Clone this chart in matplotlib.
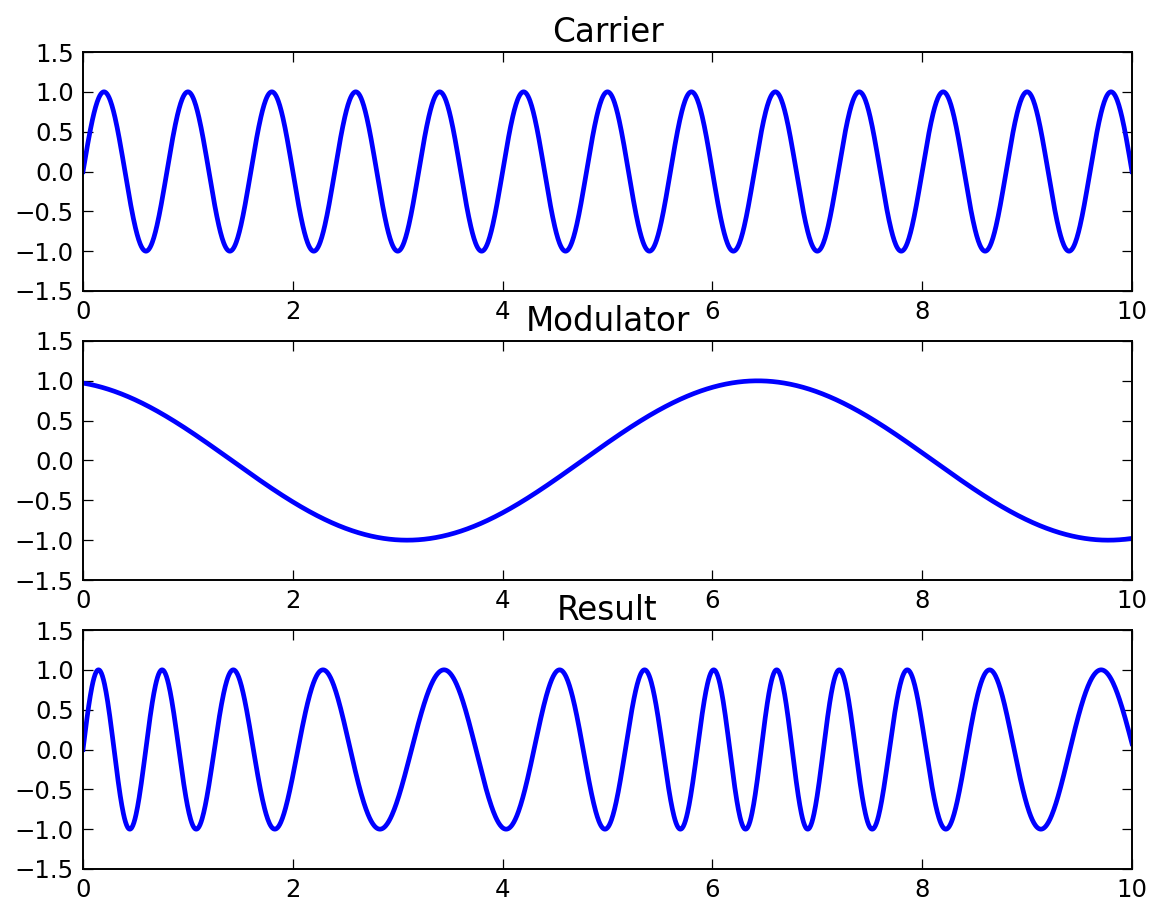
import numpy as np
import matplotlib
matplotlib.use("Agg")
import matplotlib.pyplot as plt

# values
titles = ["Carrier", "Modulator", "Result"]
t_start, t_end = 0.0, 10.0
n_samples = 2000

carrier_freq = 1.25        # cycles per unit (period 0.8)
mod_rate = 0.94            # rad per unit (min at ~3.09, max at ~6.43)
mod_phase = 0.237          # rad, modulator starts at ~0.97
result_depth = 0.47        # cycles of phase deviation
result_rate = 0.945        # rad per unit

xticks = [0, 2, 4, 6, 8, 10]
yticks = [-1.5, -1.0, -0.5, 0.0, 0.5, 1.0, 1.5]

t = np.linspace(t_start, t_end, n_samples)
carrier = np.sin(2 * np.pi * carrier_freq * t)
modulator = np.cos(mod_rate * t + mod_phase)
result = np.sin(2 * np.pi * (carrier_freq * t + result_depth * np.sin(result_rate * t)))
series = [carrier, modulator, result]

fig = plt.figure(figsize=(11.54, 9.01), dpi=100)

W, H = 1154.0, 901.0
left, right = 83, 1132
tops = [52, 341, 630]
height = 239

for i in range(3):
    top = tops[i]
    ax = fig.add_axes([left / W, 1 - (top + height) / H, (right - left) / W, height / H])
    ax.plot(t, series[i], color="#0000ff", linewidth=3.4)
    ax.set_xlim(0, 10)
    ax.set_ylim(-1.5, 1.5)
    ax.set_xticks(xticks)
    ax.set_yticks(yticks)
    ax.set_yticklabels([("%.1f" % v).replace("-", "\u2212") for v in yticks])
    ax.tick_params(direction="in", length=7.2, width=0.9, labelsize=17.6,
                   top=True, right=True, pad=6.5, colors="black")
    for s in ax.spines.values():
        s.set_linewidth(1.4)
    ax.set_title(titles[i], fontsize=23.5, pad=7.5)

fig.savefig("out.png", dpi=100)
